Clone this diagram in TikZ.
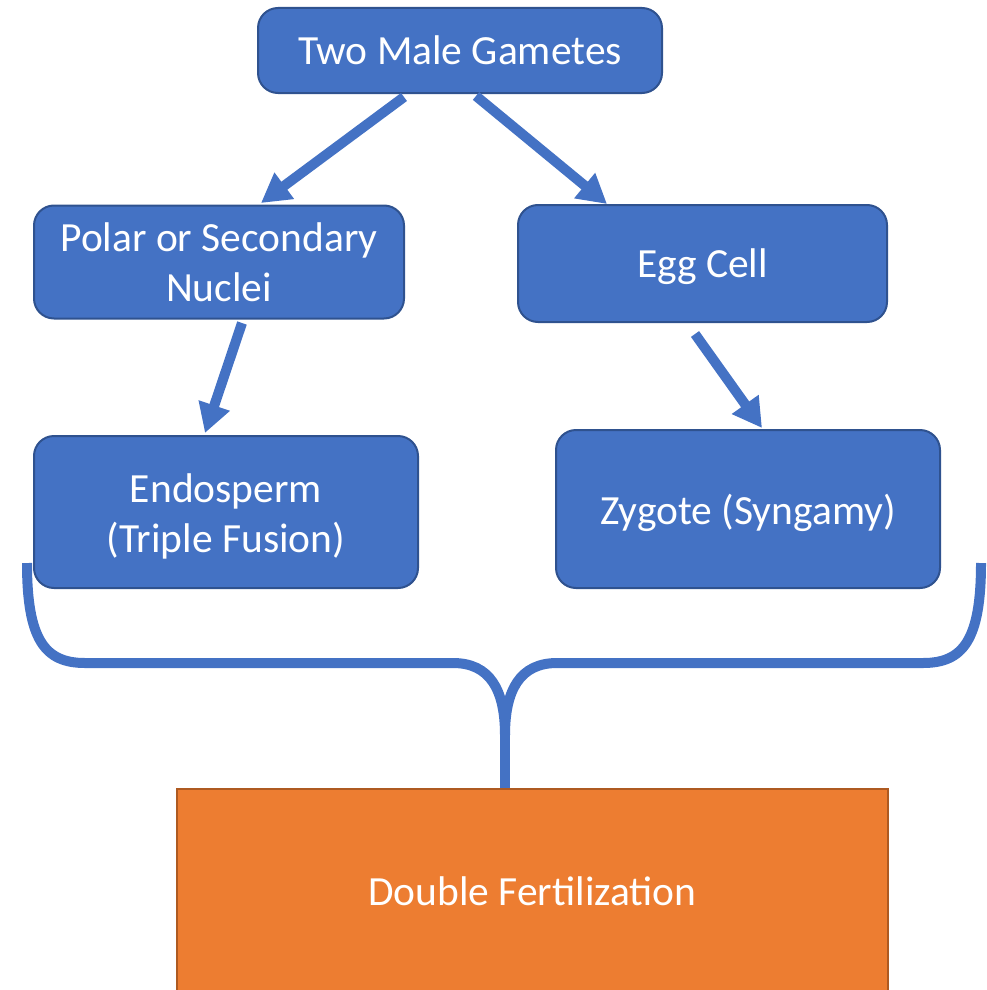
\documentclass[tikz,border=0pt]{standalone}
\usepackage{fontspec}
\setmainfont{Carlito}
\usetikzlibrary{arrows.meta}
\definecolor{bfill}{HTML}{4472C4}
\definecolor{bdraw}{HTML}{2F528F}
\definecolor{ofill}{HTML}{ED7D31}
\definecolor{odraw}{HTML}{AE5A21}
\tikzset{
  bluebox/.style={draw=bdraw, fill=bfill, line width=2pt, rounded corners=20pt,
    text=white, align=center, inner sep=0pt,
    font=\fontsize{41.5}{50}\selectfont},
  orangebox/.style={draw=odraw, fill=ofill, line width=2pt,
    text=white, align=center, inner sep=0pt,
    font=\fontsize{41.5}{50}\selectfont},
  boxtext/.style={text=white, align=center, inner sep=0pt,
    font=\fontsize{41.5}{50}\selectfont},
  flow/.style={draw=bfill, line width=10pt, -{Triangle[width=31pt,length=29pt]}},
  bracestyle/.style={draw=bfill, line width=10pt}
}
\begin{document}
\begin{tikzpicture}[x=1pt,y=-1pt]
\useasboundingbox (0,0) rectangle (987,990);
\begin{scope}
\clip (0,0) rectangle (987,990);
\node[orangebox, minimum width=711pt, minimum height=215pt] (df) at (532.5,896.5) {};
\end{scope}
\node[boxtext] (dft) at (532.5,891) {Double Fertilization};
\node[bluebox, minimum width=404pt, minimum height=85pt] (gam) at (460,50.5) {Two Male Gametes};
\node[bluebox, minimum width=370pt, minimum height=113pt] (pol) at (219,262) {Polar or Secondary\\Nuclei};
\node[bluebox, minimum width=369pt, minimum height=117pt] (egg) at (702.5,263.5) {};
\node[boxtext] (eggt) at (702.5,267) {Egg Cell};
\node[bluebox, minimum width=384pt, minimum height=152pt] (endo) at (226,512) {};
\node[boxtext] (endot) at (226,516) {Endosperm\\(Triple Fusion)};
\node[bluebox, minimum width=384pt, minimum height=158pt] (zyg) at (748,509) {};
\node[boxtext] (zygt) at (748,513) {Zygote (Syngamy)};
% arrow end points
\coordinate (a1s) at (404,97);
\coordinate (a1e) at (261,203);
\coordinate (a2s) at (476,96);
\coordinate (a2e) at (607,204);
\coordinate (a3s) at (242,323);
\coordinate (a3e) at (205,433);
\coordinate (a4s) at (695,334);
\coordinate (a4e) at (762,428);
\draw[flow] (a1s) -- (a1e);
\draw[flow] (a2s) -- (a2e);
\draw[flow] (a3s) -- (a3e);
\draw[flow] (a4s) -- (a4e);
% brace
\coordinate (bl) at (27,563);
\coordinate (br) at (981,563);
\coordinate (bm) at (505,735);
\draw[bracestyle] (bl) .. controls (27,640) and (45,663) .. (85,663) -- (453,663)
  .. controls (490,663) and (505,690) .. (bm);
\draw[bracestyle] (br) .. controls (981,640) and (963,663) .. (923,663) -- (557,663)
  .. controls (520,663) and (505,690) .. (bm);
\draw[bracestyle] (bm) -- (df.north -| bm);
\end{tikzpicture}
\end{document}
